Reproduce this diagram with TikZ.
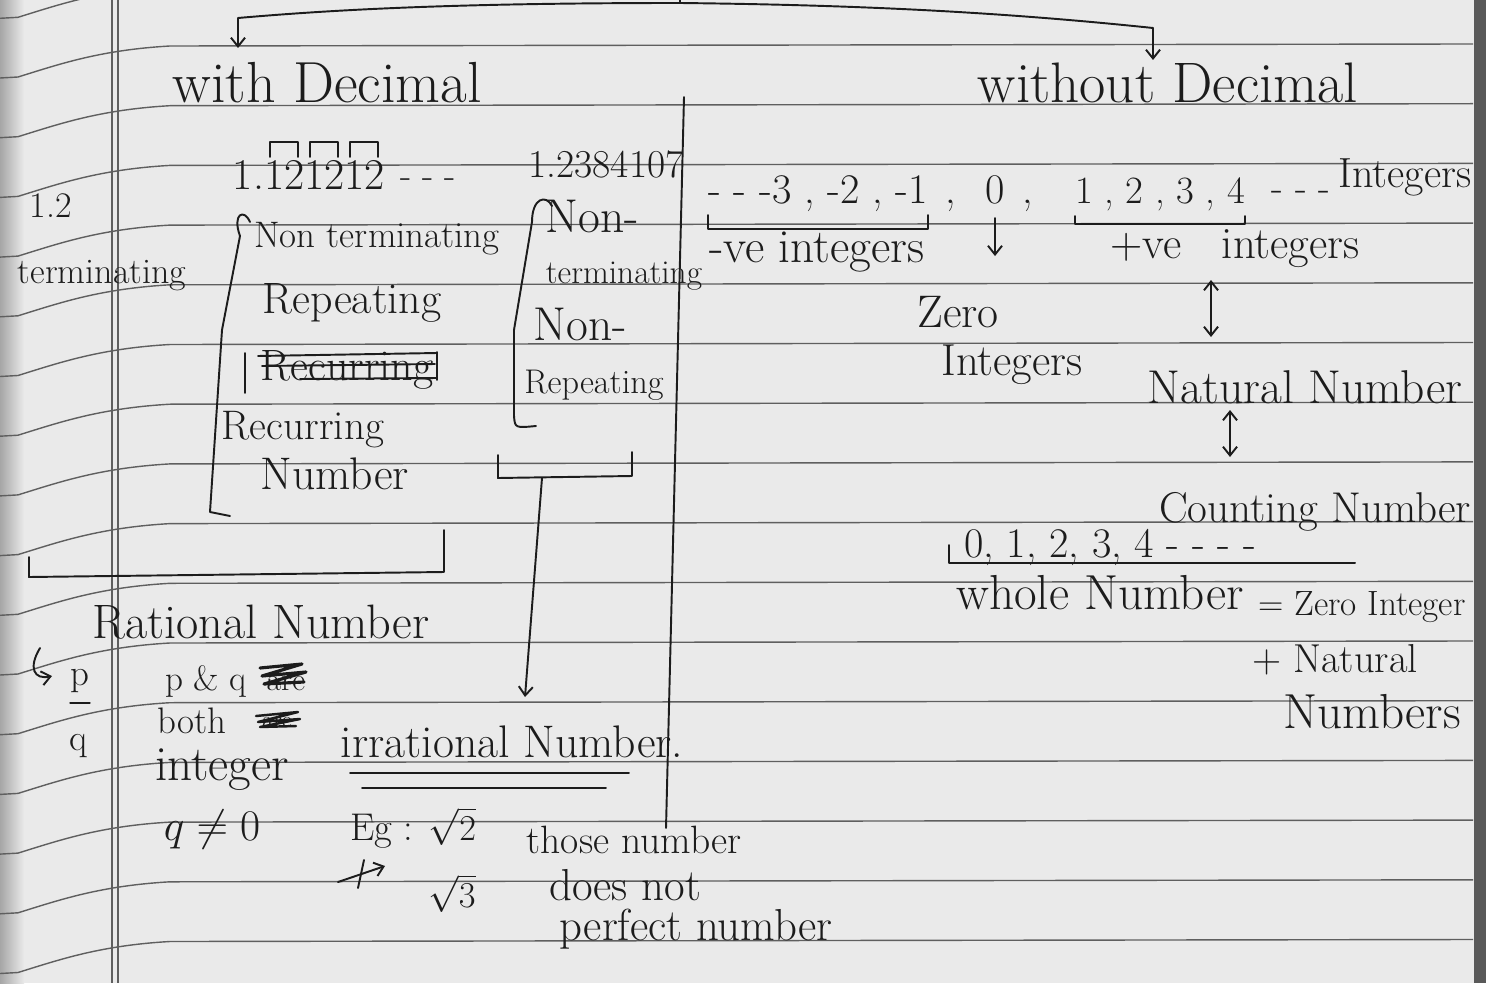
\documentclass[tikz,border=0pt]{standalone}
\usetikzlibrary{arrows.meta}
\definecolor{cink}{RGB}{28,28,28}
\definecolor{cpaper}{RGB}{234,234,234}
\definecolor{crule}{RGB}{95,95,95}
\tikzset{nb/.style={x=0.02cm,y=-0.02cm},
  ink/.style={cink,line width=1.1pt,line cap=round,line join=round},
  ruled/.style={crule,line width=0.8pt},
  tip/.style={-{Straight Barb[length=5pt,width=8pt]}},
  dtip/.style={{Straight Barb[length=5pt,width=8pt]}-{Straight Barb[length=5pt,width=8pt]}},
  hw/.style={cink,inner sep=0pt,anchor=base,font=\fontsize{#1}{#1}\selectfont},
  hw/.default=22}

\begin{document}
\begin{tikzpicture}[nb]
    \useasboundingbox (0,0) rectangle (1486,983);
    \fill[cpaper] (0,0) rectangle (1486,983);
    \shade[left color=black!35,right color=cpaper] (0,0) rectangle (24,983);
    % ruled paper
    \foreach \k in {-1,...,15} {
      \pgfmathsetmacro\ry{44+59.7*\k}
      \draw[ruled] (0,{\ry+34}) -- (18,{\ry+33}) .. controls (60,{\ry+20}) and (100,{\ry+6}) .. (170,{\ry+2}) -- (1473,\ry);
    }
    \draw[ruled,line width=0.6pt] (112,0) -- (112,983) (118,0) -- (118,983);
    \fill[black!65] (1474,0) rectangle (1486,983);

    % headings
    \node[hw=33] (wd) at (327,103) {with Decimal};
    \node[hw=32.5] (wod) at (1168,103) {without Decimal};
    \coordinate (top) at (680,3);
    \coordinate (wdin) at (238,48);
    \coordinate (wodin) at (1153,60);
    \draw[ink] (680,0) -- (top);
    \draw[ink,tip] (top) .. controls (450,3) and (330,10) .. (238,18) -- (wdin);
    \draw[ink,tip] (top) .. controls (860,5) and (1000,12) .. (1153,28) -- (wodin);

    % with decimal
    \node[hw=20.5] (ter1) at (51,217) {1.2};
    \node[hw=20.5] (ter) at (102,283) {terminating};
    \node[hw=25] (rep) at (309,190) {1.121212};
    \node[hw=21] (repd) at (428,188) {- - -};
    \foreach \a/\b in {270/298,310/338,350/378}
      \draw[ink,line width=0.9pt] (\a,157) -- (\a,142) -- (\b,142) -- (\b,157);
    \draw[ink] (250,222) .. controls (244,208) and (232,214) .. (240,236) -- (222,330) -- (210,512) -- (230,516);
    \node[hw=21] (ntr) at (377,247) {Non terminating};
    \node[hw=25] (rpt) at (352,313) {Repeating};
    \node[hw=25] (recx) at (347,380) {Recurring};
    \draw[ink] (245,353) -- (245,393) (258,356) -- (437,353) (262,366) -- (435,364) (300,379) -- (437,378) (437,352) -- (437,380);
    \node[hw=23.5] (rec) at (303,439) {Recurring};
    \node[hw=26] (recn) at (335,489) {Number};
    \draw[ink] (29,557) -- (29,577) -- (444,572) -- (444,530);
    \node[hw=27.5] (rat) at (261,638) {Rational Number};

    % p/q
    \draw[ink,tip] (40,648) .. controls (28,668) and (34,680) .. (52,676);
    \node[hw=21] (p) at (80,685) {p};
    \node[hw=21] (q) at (78,750) {q};
    \draw[ink] ([yshift=-6pt]p.south west) -- ([yshift=-6pt]p.south east);
    \node[hw=20] (pq) at (206,690) {p \& q};
    \node[hw=18] (are1) at (286,690) {are};
    \draw[ink,line width=1.8pt] (260,668) -- (302,664) -- (262,676) -- (306,672) -- (264,684) -- (304,682);
    \node[hw=21] (both) at (192,733) {both};
    \node[hw=13] (are2) at (277,727) {are};
    \draw[ink,line width=1.4pt] (256,716) -- (298,712) -- (258,722) -- (300,719) -- (260,727) -- (296,726);
    \node[hw=28] (intg) at (222,780) {integer};
    \node[hw=25] (qnz) at (212,840) {$q \neq 0$};

    % irrational
    \node[hw=22.5] (irn) at (606,177) {1.2384107};
    \draw[ink] (552,206) .. controls (546,194) and (532,198) .. (532,222) -- (514,330) -- (514,416) .. controls (515,428) .. (536,426);
    \node[hw=27] (nn1) at (592,233) {Non-};
    \node[hw=19] (nn2) at (624,283) {terminating};
    \node[hw=27] (nr1) at (580,340) {Non-};
    \node[hw=19.5] (nr2) at (594,393) {Repeating};
    \draw[ink] (498,455) -- (498,478) -- (632,476) -- (632,452);
    \coordinate (nrb) at (542,478);
    \coordinate (irrin) at (525,697);
    \draw[ink,tip] (nrb) -- (irrin);
    \draw[ink] (684,97) -- (666,828);
    \node[hw=26] (irr) at (512,757) {irrational Number.};
    \draw[ink] (350,773) -- (629,773) (362,788) -- (606,788);
    \node[hw=22] (eg) at (413,840) {Eg : $\sqrt{2}$};
    \draw[ink,tip] (338,882) -- (385,866);
    \draw[ink] (364,860) -- (358,888);
    \node[hw=22] (r3) at (452,907) {$\sqrt{3}$};
    \node[hw=22.5] (th1) at (634,853) {those number};
    \node[hw=25.5] (th2) at (625,900) {does not};
    \node[hw=25.5] (th3) at (696,940) {perfect number};

    % without decimal
    \node[hw=24] (neg) at (818,203) {- - -3 , -2 , -1};
    \node[hw=24] (c1) at (951,203) {,};
    \node[hw=24] (zero) at (995,203) {0};
    \node[hw=24] (c2) at (1028,203) {,};
    \node[hw=22] (pos) at (1160,203) {1 , 2 , 3 , 4};
    \node[hw=22] (dots) at (1301,200) {- - -};
    \node[hw=24] (intr) at (1405,188) {Integers};
    \draw[ink] ([yshift=-2pt]neg.south west) -- ++(0,14) -| ([yshift=-2pt]neg.south east);
    \draw[ink] ([yshift=-3pt]pos.south west) -- ++(0,8) -| ([yshift=-3pt]pos.south east);
    \draw[ink,tip] ([yshift=-8pt]zero.south) -- ++(0,38);
    \node[hw=27] (ngi) at (817,262) {-ve integers};
    \node[hw=25.5] (psi) at (1235,258) {+ve\hspace{0.9em}integers};
    \node[hw=26] (zr) at (958,327) {Zero};
    \node[hw=25.5] (zri) at (1012,375) {Integers};
    \node[hw=27] (nat) at (1305,403) {Natural Number};
    \node[hw=24.5] (cnt) at (1315,522) {Counting Number};
    \coordinate (a1) at (1211,280);
    \coordinate (a2) at (1211,337);
    \coordinate (b1) at (1230,410);
    \coordinate (b2) at (1230,457);
    \draw[ink,dtip] (a1) -- (a2);
    \draw[ink,dtip] (b1) -- (b2);
    \node[hw=24] (whl) at (1110,557) {0, 1, 2, 3, 4 - - - -};
    \draw[ink] (949,545) -- (949,563) -- (1355,563);
    \node[hw=28] (whn) at (1100,609) {whole Number};
    \node[hw=20] (eq) at (1362,615) {= Zero Integer};
    \node[hw=23] (pn) at (1335,672) {+ Natural};
    \node[hw=28] (nms) at (1372,728) {Numbers};
\end{tikzpicture}
\end{document}
